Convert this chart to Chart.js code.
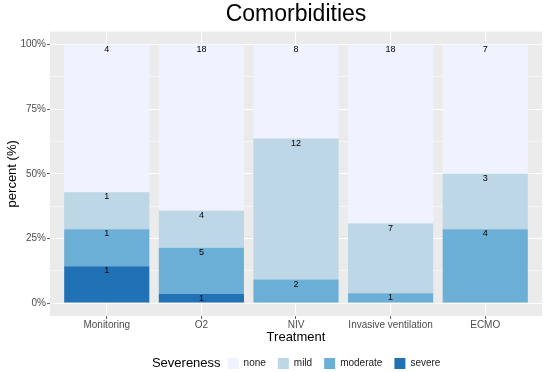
<!DOCTYPE html>
<html lang="en">
<head>
<meta charset="UTF-8">
<title>Comorbidities</title>
<script src="https://cdn.jsdelivr.net/npm/chart.js"></script>
<style>
  body { margin: 0; background: #fff; }
  #wrap { width: 550px; height: 372px; }
</style>
</head>
<body>
<div id="wrap"><canvas id="myChart"></canvas></div>
<script>
// counts per treatment
const treatments = ["Monitoring", "O2", "NIV", "Invasive ventilation", "ECMO"];
const severe   = [1, 1, 0, 0, 0];
const moderate = [1, 5, 2, 1, 4];
const mild     = [1, 4, 12, 7, 3];
const none     = [4, 18, 8, 18, 7];
const yTicks   = [0, 12.5, 25, 37.5, 50, 62.5, 75, 87.5, 100];

const totals = treatments.map((t, i) => severe[i] + moderate[i] + mild[i] + none[i]);
const toPct = counts => counts.map((c, i) => ({ x: i, y: c / totals[i] * 100 }));

Chart.defaults.font.family = '"Liberation Sans", Arial, sans-serif';

// grey panel behind the grid
const panelBg = {
  id: 'panelBg',
  beforeDraw(chart) {
    const a = chart.chartArea;
    chart.ctx.save();
    chart.ctx.fillStyle = '#EBEBEB';
    chart.ctx.fillRect(a.left, a.top, a.right - a.left, a.bottom - a.top);
    chart.ctx.restore();
  }
};

// count labels at the top of each segment
const barLabels = {
  id: 'barLabels',
  afterDatasetsDraw(chart) {
    const ctx = chart.ctx;
    ctx.save();
    ctx.font = '9px "Liberation Sans", Arial, sans-serif';
    ctx.fillStyle = '#000';
    ctx.textAlign = 'center';
    ctx.textBaseline = 'middle';
    chart.data.datasets.forEach((ds, di) => {
      chart.getDatasetMeta(di).data.forEach((bar, i) => {
        const n = ds.counts[i];
        if (n > 0) ctx.fillText(n, bar.x, bar.y + 4.5);
      });
    });
    ctx.restore();
  }
};

// shift legend right and put its title to the left, like ggplot
const legendTitle = {
  id: 'legendTitle',
  afterLayout(chart) {
    const lg = chart.legend;
    lg.left += 38;
    lg.right += 38;
  },
  afterDraw(chart) {
    const lg = chart.legend;
    const hb = lg.legendHitBoxes[0];
    if (!hb) return;
    const ctx = chart.ctx;
    ctx.save();
    ctx.font = '13px "Liberation Sans", Arial, sans-serif';
    ctx.fillStyle = '#000';
    ctx.textAlign = 'right';
    ctx.textBaseline = 'middle';
    ctx.fillText('Severeness', hb.left - 7, hb.top + hb.height / 2);
    ctx.restore();
  }
};

new Chart(document.getElementById('myChart'), {
  type: 'bar',
  data: {
    datasets: [
      { label: 'severe',   data: toPct(severe),   counts: severe,   backgroundColor: '#2171B5' },
      { label: 'moderate', data: toPct(moderate), counts: moderate, backgroundColor: '#6BAED6' },
      { label: 'mild',     data: toPct(mild),     counts: mild,     backgroundColor: '#BDD7E7' },
      { label: 'none',     data: toPct(none),     counts: none,     backgroundColor: '#EFF3FF' }
    ]
  },
  options: {
    responsive: true,
    maintainAspectRatio: false,
    animation: false,
    events: [],
    layout: { padding: { left: 0, right: 8, top: 0, bottom: 0 } },
    datasets: { bar: { barPercentage: 0.9, categoryPercentage: 1, borderWidth: 0 } },
    scales: {
      x: {
        type: 'linear',
        min: -0.6,
        max: 4.6,
        offset: false,
        stacked: true,
        afterBuildTicks: s => { s.ticks = treatments.map((t, i) => ({ value: i })); },
        afterFit: s => { s.height = 30; },
        ticks: {
          callback: v => treatments[v],
          font: { size: 10 },
          color: '#4D4D4D',
          padding: 0,
          autoSkip: false,
          maxRotation: 0
        },
        grid: { offset: false, color: '#FFFFFF', lineWidth: 1.1, tickLength: 3, tickColor: '#333333', tickWidth: 0.8 },
        border: { display: false },
        title: { display: true, text: 'Treatment', font: { size: 13 }, color: '#000', padding: { top: 0, bottom: 1.2 } }
      },
      y: {
        min: -5,
        max: 105,
        stacked: true,
        afterBuildTicks: s => { s.ticks = yTicks.map(v => ({ value: v })); },
        afterFit: s => { s.width = 50; },
        ticks: {
          callback: v => (v % 25 === 0 ? v + '%' : ''),
          font: { size: 10 },
          color: '#4D4D4D',
          padding: 1
        },
        grid: {
          color: '#FFFFFF',
          lineWidth: c => (c.tick && c.tick.value % 25 === 0 ? 1.1 : 0.5),
          tickLength: 3,
          tickColor: c => (c.tick && c.tick.value % 25 === 0 ? '#333333' : 'rgba(0,0,0,0)'),
          tickWidth: 0.8
        },
        border: { display: false },
        title: { display: true, text: 'percent (%)', font: { size: 13 }, color: '#000', padding: { top: 5, bottom: 0 } }
      }
    },
    plugins: {
      title: {
        display: true,
        text: 'Comorbidities',
        fullSize: false,
        font: { size: 23, weight: 'normal' },
        color: '#000',
        padding: { top: 1, bottom: 3 }
      },
      legend: {
        position: 'bottom',
        fullSize: false,
        reverse: true,
        maxHeight: 26,
        labels: { boxWidth: 11, boxHeight: 11, padding: 12, font: { size: 10 }, color: '#1A1A1A' }
      },
      tooltip: { enabled: false }
    }
  },
  plugins: [panelBg, barLabels, legendTitle]
});
</script>
</body>
</html>
